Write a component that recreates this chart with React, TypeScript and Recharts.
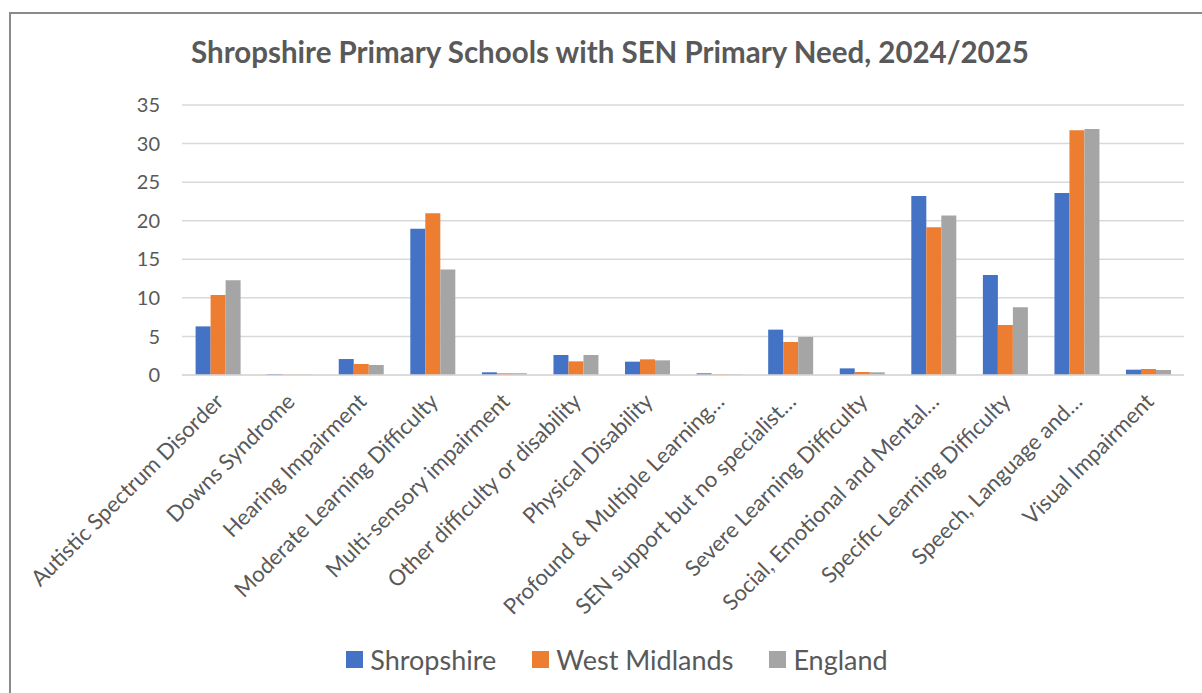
import React from 'react';
import { BarChart, Bar, XAxis, YAxis, CartesianGrid, Legend } from 'recharts';

const categories = [
  'Autistic Spectrum Disorder',
  'Downs Syndrome',
  'Hearing Impairment',
  'Moderate Learning Difficulty',
  'Multi-sensory impairment',
  'Other difficulty or disability',
  'Physical Disability',
  'Profound & Multiple Learning…',
  'SEN support but no specialist…',
  'Severe Learning Difficulty',
  'Social, Emotional and Mental…',
  'Specific Learning Difficulty',
  'Speech, Language and…',
  'Visual Impairment',
];
const shropshire = [6.3, 0.13, 2.07, 18.97, 0.35, 2.59, 1.73, 0.22, 5.88, 0.86, 23.2, 12.96, 23.6, 0.69];
const westMidlands = [10.37, 0.05, 1.43, 20.96, 0.22, 1.77, 2.03, 0.09, 4.28, 0.39, 19.14, 6.48, 31.72, 0.78];
const england = [12.27, 0.05, 1.3, 13.66, 0.22, 2.59, 1.9, 0.09, 4.93, 0.35, 20.66, 8.77, 31.89, 0.65];
const yTicks = [0, 5, 10, 15, 20, 25, 30, 35];
const seriesNames = ['Shropshire', 'West Midlands', 'England'];
const colors = ['#4472C4', '#ED7D31', '#A5A5A5'];

const data = categories.map((c, i) => ({
  name: c,
  s: shropshire[i],
  w: westMidlands[i],
  e: england[i],
}));

const FONT = 'Lato, "Open Sans", sans-serif';

const AngledTick = (props: any) => {
  const { x, y, payload } = props;
  const ax = x + 7;
  const ay = y + 20;
  return (
    <text
      x={ax}
      y={ay}
      transform={`rotate(-45 ${ax} ${ay})`}
      textAnchor="end"
      fill="#595959"
      fontSize={22}
      fontFamily={FONT}
    >
      {payload.value}
    </text>
  );
};

const LegendContent = () => (
  <div style={{ display: 'flex', justifyContent: 'center', alignItems: 'center', height: 40, fontFamily: FONT, paddingLeft: 50, boxSizing: 'border-box' }}>
    {seriesNames.map((n, i) => (
      <div key={n} style={{ display: 'flex', alignItems: 'center', marginRight: i < 2 ? 36 : 0 }}>
        <div style={{ width: 17, height: 17, background: colors[i], marginRight: 7 }} />
        <span style={{ fontSize: 27, color: '#595959' }}>{n}</span>
      </div>
    ))}
  </div>
);

export default function App() {
  return (
    <div style={{ position: 'absolute', left: 0, top: 0, width: 1202, height: 693, background: '#fff', overflow: 'hidden' }}>
      <div style={{ position: 'absolute', left: 9, top: 12, width: 1200, height: 700, borderLeft: '2px solid #8a8a8a', borderTop: '2px solid #8a8a8a' }} />
      <div style={{ position: 'absolute', left: 0, top: 34, width: 1202, textAlign: 'center', fontFamily: FONT, fontWeight: 700, fontSize: 29.5, color: '#595959', paddingLeft: 18, boxSizing: 'border-box' }}>
        Shropshire Primary Schools with SEN Primary Need, 2024/2025
      </div>
      <div style={{ position: 'absolute', left: 0, top: 0 }}>
        <BarChart
          width={1202}
          height={693}
          data={data}
          margin={{ top: 105, right: 18, left: 0, bottom: 0 }}
          barGap={0}
          barCategoryGap="19%"
        >
          <CartesianGrid vertical={false} stroke="#d9d9d9" strokeWidth={1.5} />
          <XAxis
            dataKey="name"
            interval={0}
            height={278}
            tick={<AngledTick />}
            tickLine={false}
            axisLine={{ stroke: '#d9d9d9', strokeWidth: 1.5 }}
          />
          <YAxis
            width={182}
            domain={[0, 35]}
            ticks={yTicks}
            tickLine={false}
            axisLine={false}
            tickSize={0}
            tickMargin={22}
            tick={{ fill: '#595959', fontSize: 20, fontFamily: FONT }}
          />
          <Legend verticalAlign="bottom" content={<LegendContent />} wrapperStyle={{ height: 40, bottom: 14 }} />
          <Bar dataKey="s" name="Shropshire" fill={colors[0]} isAnimationActive={false} />
          <Bar dataKey="w" name="West Midlands" fill={colors[1]} isAnimationActive={false} />
          <Bar dataKey="e" name="England" fill={colors[2]} isAnimationActive={false} />
        </BarChart>
      </div>
    </div>
  );
}
